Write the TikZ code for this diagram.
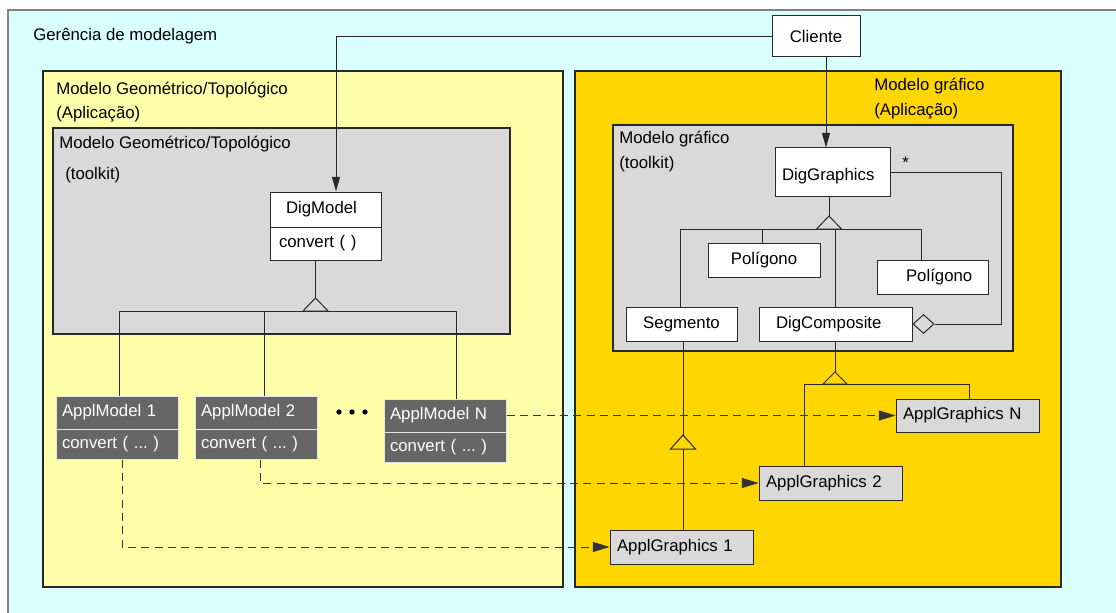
\documentclass[tikz,border=0pt]{standalone}
\usepackage{fontspec}
\setmainfont{Liberation Sans}
\usetikzlibrary{arrows.meta,calc,shapes.geometric}
\definecolor{cyanbg}{RGB}{217,255,255}
\definecolor{yelbg}{RGB}{255,255,170}
\definecolor{goldbg}{RGB}{255,214,0}
\definecolor{lgray}{RGB}{217,217,217}
\definecolor{dgray}{RGB}{102,102,102}
\definecolor{edge}{RGB}{40,40,40}
\newcommand\cbox[8]{%
  \pgfmathsetmacro\cbw{(#4-#2-2*(#7))*0.75}%
  \pgfmathsetmacro\cbh{(#5-#3)*0.75}%
  \pgfmathsetmacro\cbp{(#7)*0.75}%
  \node[#6, inner xsep=\cbp pt, inner ysep=0pt, text width=\cbw pt, minimum height=\cbh pt] (#1) at ({(#2+#4)/2},{(#3+#5)/2}) {#8};}
\newcommand\gtri[4]{\draw[line width=0.75pt,edge] (#1,#2) -- ({#1-#4},#3) -- ({#1+#4},#3) -- cycle;}
\frenchspacing
\begin{document}
\begin{tikzpicture}[x=0.75pt,y=-0.75pt,
  every node/.style={font=\fontsize{12.6}{15}\selectfont\frenchspacing},
  lbl/.style={anchor=base west, inner sep=0pt},
  cont/.style={draw=edge, line width=0.8pt},
  wbox/.style={draw=edge, fill=white, line width=0.75pt},
  dbox/.style={draw=white!80!gray, fill=dgray, text=white, line width=0.75pt},
  gbox/.style={draw=edge, fill=lgray, line width=0.75pt},
  conn/.style={draw=edge, line width=0.75pt},
  arr/.style={conn, -{Triangle[length=11pt,width=6pt]}},
  dsh/.style={conn, draw=black!80, dash pattern=on 6pt off 4pt, -{Triangle[length=12.5pt,width=7.5pt]}}]
\useasboundingbox (0,0) rectangle (1116,613);
% containers
\draw[draw=gray, line width=0.8pt, fill=cyanbg] (8,10) rectangle (1130,630);
\draw[cont, fill=yelbg] (43,71) rectangle (563,587);
\draw[cont, fill=goldbg] (575,71) rectangle (1061,587);
\draw[cont, fill=lgray] (53,128) rectangle (510,334);
\draw[cont, fill=lgray] (613,125) rectangle (1013,351);
% labels
\node[lbl] (t0) at (33,41) {Gerência de modelagem};
\node[lbl] (t1) at (56,95) {Modelo Geométrico/Topológico};
\node[lbl] (t2) at (56,119) {(Aplicação)};
\node[lbl] (t3) at (59,149) {Modelo Geométrico/Topológico};
\node[lbl] (t4) at (65,179) {(toolkit)};
\node[lbl] (t5) at (874,91) {Modelo gráfico};
\node[lbl] (t6) at (874,116) {(Aplicação)};
\node[lbl] (t7) at (619,144) {Modelo gráfico};
\node[lbl] (t8) at (619,169) {(toolkit)};
\node[lbl] (star) at (902,169) {*};
% boxes
\cbox{cli}{772}{16}{860}{57}{wbox,align=center}{0}{Cliente}
\cbox{dg}{775}{148}{890}{196}{wbox,align=left}{7}{\raisebox{-3pt}[\height][\depth]{DigGraphics}}
\cbox{pol1}{708}{243}{820}{277}{wbox,align=center}{0}{Polígono}
\cbox{pol2}{877}{260}{988}{294}{wbox,align=left}{29}{Polígono}
\cbox{seg}{626}{307}{737}{341}{wbox,align=center}{0}{Segmento}
\cbox{dc}{759}{307}{912}{341}{wbox,align=left}{17}{DigComposite}
\cbox{dmt}{270}{192}{381}{227}{wbox,align=left}{16}{DigModel}
\cbox{dmb}{270}{227}{381}{260}{wbox,align=left}{9}{convert ( )}
\cbox{am1t}{56}{396}{178}{429}{dbox,align=left}{6}{ApplModel 1}
\cbox{am1b}{56}{429}{178}{459}{dbox,align=left}{6}{convert ( ... )}
\cbox{am2t}{195}{396}{317}{429}{dbox,align=left}{6}{ApplModel 2}
\cbox{am2b}{195}{429}{317}{459}{dbox,align=left}{6}{convert ( ... )}
\cbox{amNt}{384}{399}{506}{432}{dbox,align=left}{6}{ApplModel N}
\cbox{amNb}{384}{432}{506}{462}{dbox,align=left}{6}{convert ( ... )}
\cbox{agN}{896}{399}{1039}{432}{gbox,align=left}{7}{ApplGraphics N}
\cbox{ag2}{759}{466}{902}{500}{gbox,align=left}{7}{ApplGraphics 2}
\cbox{ag1}{610}{530}{753}{564}{gbox,align=left}{7}{ApplGraphics 1}
\node[draw=edge, line width=0.75pt, diamond, minimum width=21*0.75pt, minimum height=19*0.75pt, inner sep=0pt, anchor=west] (dia) at (dc.east) {};
% dots
\fill (339,412) circle (2pt);
\fill (352,412) circle (2pt);
\fill (365,412) circle (2pt);
% Cliente connectors
\coordinate (k1) at (336,36.5);
\draw[arr] (cli.west) -- (k1) -- (dmt.north -| k1);
\coordinate (k2) at (826,0);
\draw[arr] (cli.south -| k2) -- (dg.north -| k2);
% DigModel hierarchy
\coordinate (j1) at (315.5,298);
\draw[conn] (dmb.south -| j1) -- (j1);
\gtri{315.5}{298}{311}{12.5}
\coordinate (h1a) at (119,311);
\coordinate (h1b) at (456,311);
\coordinate (h1c) at (264,311);
\draw[conn] (am1t.north -| h1a) -- (h1a) -- (h1b) -- (amNt.north -| h1b);
\draw[conn] (h1c) -- (am2t.north -| h1c);
% DigGraphics hierarchy
\coordinate (j2) at (829,216);
\draw[conn] (dg.south -| j2) -- (j2);
\gtri{829}{216}{229}{12.5}
\coordinate (h2a) at (680,229);
\coordinate (h2b) at (921,229);
\coordinate (h2c) at (762,229);
\coordinate (h2d) at (835,229);
\draw[conn] (seg.north -| h2a) -- (h2a) -- (h2b) -- (pol2.north -| h2b);
\draw[conn] (h2c) -- (pol1.north -| h2c);
\draw[conn] (h2d) -- (dc.north -| h2d);
% aggregation
\coordinate (k3) at (1001,172);
\coordinate (k4) at (1001,324);
\draw[conn] (dg.east) -- (k3) -- (k4) -- (dia.east);
% DigComposite hierarchy
\coordinate (j4) at (835,372);
\draw[conn] (dc.south -| j4) -- (j4);
\gtri{835}{372}{384}{12}
\coordinate (h4a) at (804,384);
\coordinate (h4b) at (969,384);
\draw[conn] (ag2.north -| h4a) -- (h4a) -- (h4b) -- (agN.north -| h4b);
% Segmento hierarchy
\coordinate (j3) at (683,435);
\draw[conn] (seg.south -| j3) -- (j3);
\gtri{683}{435}{449}{12.5}
\coordinate (j3b) at (683,449);
\draw[conn] (j3b) -- (ag1.north -| j3b);
% dashed dependencies
\draw[dsh] ([xshift=3.75pt]am1b.south) |- (ag1.west);
\draw[dsh] ([xshift=3pt]am2b.south) |- (ag2.west);
\draw[dsh] (amNt.east) -- (agN.west);
\end{tikzpicture}
\end{document}
